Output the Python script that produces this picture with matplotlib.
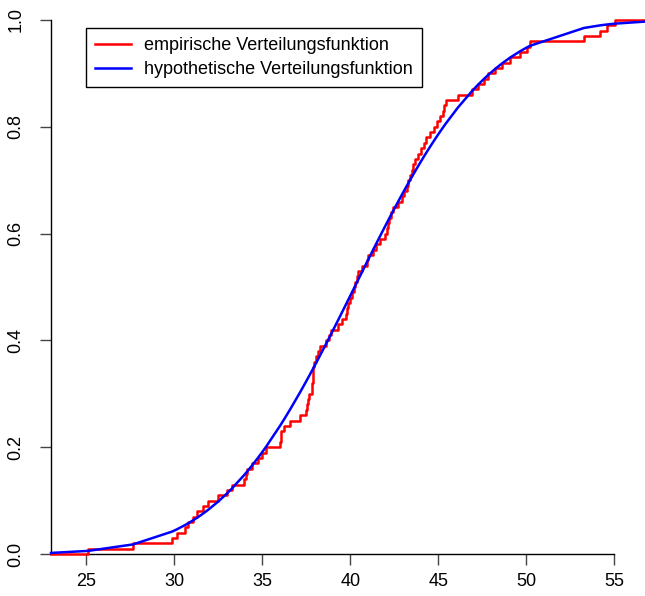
import numpy as np
import matplotlib
matplotlib.use("Agg")
import matplotlib.pyplot as plt
from math import erf, sqrt

# sorted sample (read from the empirical step function)
sample = [
    25.10, 27.66, 29.88, 30.16, 30.61, 30.78, 31.07, 31.30, 31.64, 31.92,
    32.49, 33.00, 33.28, 33.97, 34.08, 34.14, 34.42, 34.76, 34.99, 35.22,
    36.01, 36.04, 36.07, 36.24, 36.58, 37.15, 37.49, 37.55, 37.60, 37.66,
    37.83, 37.85, 37.87, 37.89, 37.91, 37.94, 38.06, 38.17, 38.28, 38.63,
    38.80, 38.91, 39.31, 39.53, 39.76, 39.82, 39.88, 39.99, 40.10, 40.22,
    40.30, 40.39, 40.47, 40.67, 40.95, 41.01, 41.30, 41.47, 41.69, 41.98,
    42.09, 42.15, 42.20, 42.32, 42.43, 42.72, 42.94, 43.06, 43.23, 43.28,
    43.40, 43.51, 43.57, 43.68, 43.85, 44.02, 44.19, 44.31, 44.53, 44.76,
    44.93, 45.10, 45.27, 45.33, 45.44, 46.13, 46.92, 47.26, 47.60, 47.83,
    48.23, 48.63, 49.08, 49.65, 50.05, 50.22, 53.28, 54.19, 54.59, 55.05,
]
mu = 40.25
sigma = 6.0
x_limits = (23.0, 56.75)
x_ticks = [25, 30, 35, 40, 45, 50, 55]
y_ticks = [0.0, 0.2, 0.4, 0.6, 0.8, 1.0]
labels = ["empirische Verteilungsfunktion", "hypothetische Verteilungsfunktion"]

plt.rcParams['font.family'] = ['Liberation Sans', 'DejaVu Sans']

W, H = 645, 596
fig = plt.figure(figsize=(W / 100, H / 100), dpi=100)
ax = fig.add_axes([51 / W, (H - 554) / H, (W - 51) / W, (554 - 20) / H])

xs = np.sort(np.array(sample))
n = len(xs)
step_x = np.concatenate([[x_limits[0]], xs, [x_limits[1]]])
step_y = np.concatenate([[0.0], np.arange(1, n + 1) / n, [1.0]])
ax.step(step_x, step_y, where='post', color='red', lw=1.8,
        label=labels[0], clip_on=False, zorder=3)

grid = np.concatenate([[x_limits[0]], xs, [x_limits[1]]])
cdf = np.array([0.5 * (1 + erf((v - mu) / (sigma * sqrt(2)))) for v in grid])
ax.plot(grid, cdf, color='blue', lw=1.8, label=labels[1], clip_on=False, zorder=4)

ax.set_xlim(*x_limits)
ax.set_ylim(0, 1)
ax.set_xticks(x_ticks)
ax.set_xticklabels([str(t) for t in x_ticks])
ax.set_yticks(y_ticks)
ax.set_yticklabels([f"{t:.1f}" for t in y_ticks], rotation=90, va='center')

for s in ['top', 'right']:
    ax.spines[s].set_visible(False)
ax.spines['bottom'].set_bounds(25, 55)
ax.spines['left'].set_bounds(0, 1)
for s in ['bottom', 'left']:
    ax.spines[s].set_linewidth(1.0)
    ax.spines[s].set_color('black')
ax.tick_params(axis='both', direction='out', length=8, width=1.0,
               labelsize=13, color='#444444')
ax.tick_params(axis='x', pad=6)
ax.tick_params(axis='y', pad=11)

leg = ax.legend(loc='upper left', bbox_to_anchor=((86 - 51) / (W - 51), 1 - 8 / 534),
                borderaxespad=0, fontsize=13, handlelength=2.0, handletextpad=0.7,
                borderpad=0.5, labelspacing=0.4, fancybox=False, framealpha=1,
                edgecolor='black')
leg.get_frame().set_linewidth(1.0)

fig.savefig('out.png', dpi=100)
